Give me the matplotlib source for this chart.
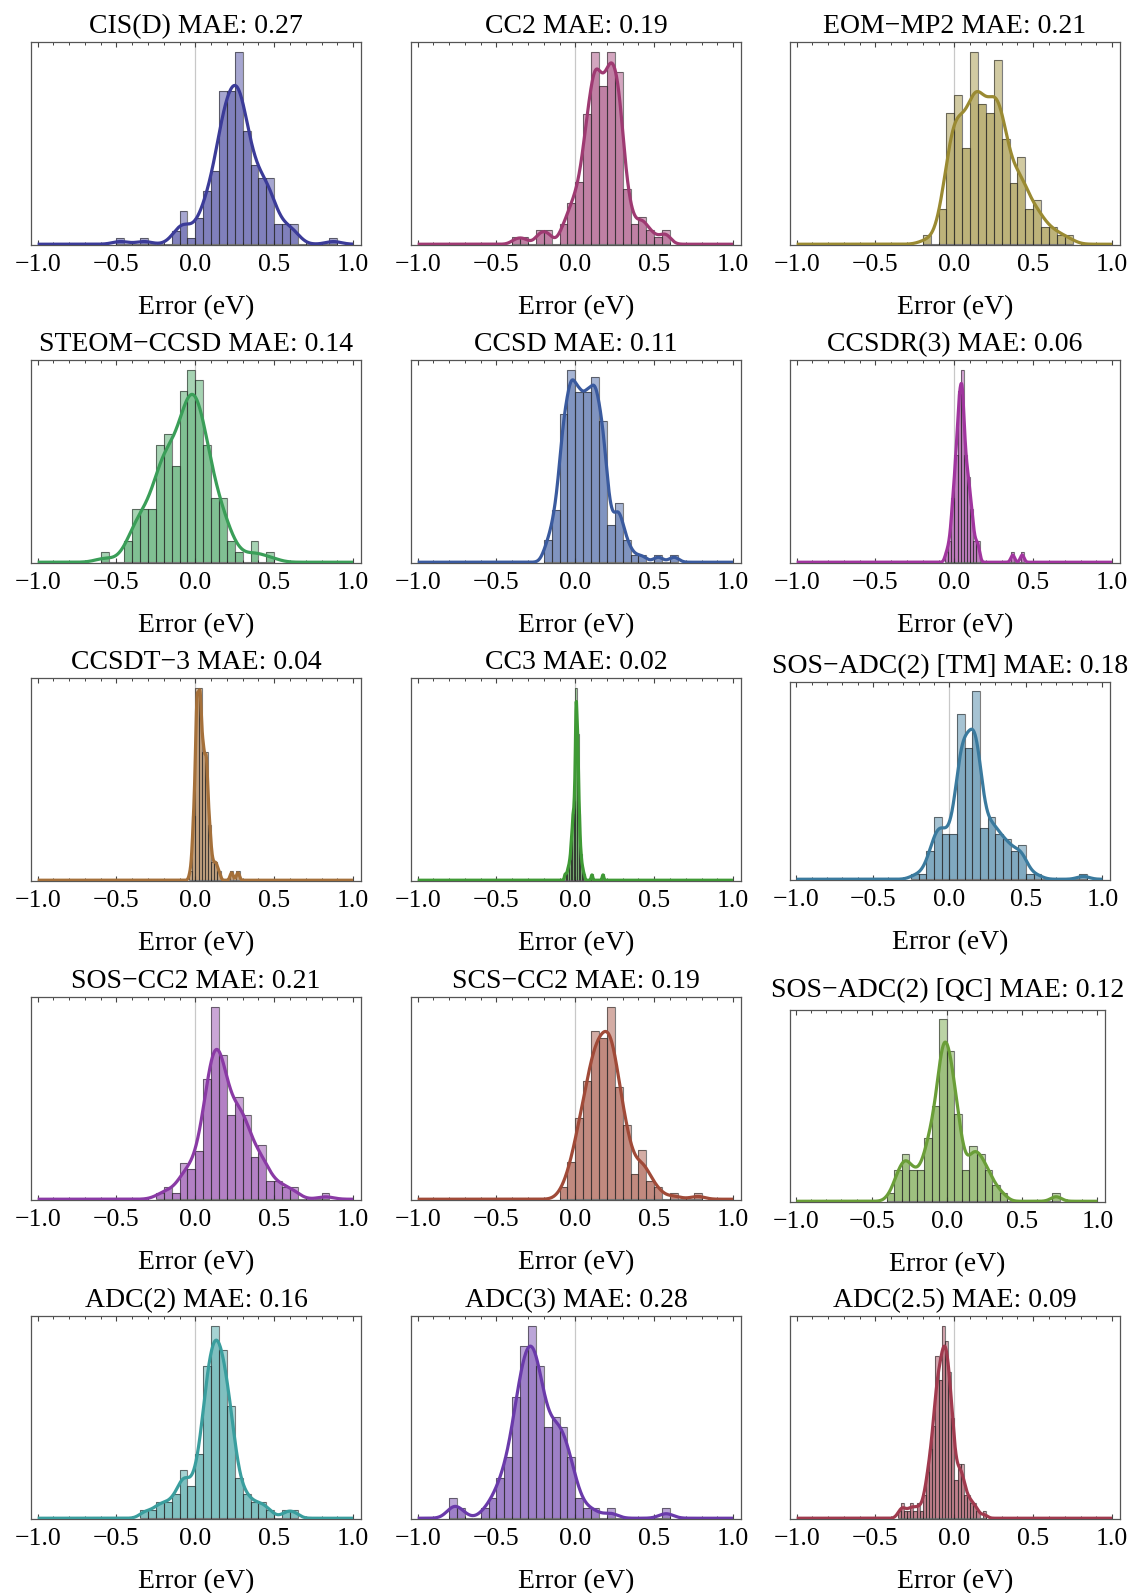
import numpy as np
import matplotlib
matplotlib.use('Agg')
import matplotlib.pyplot as plt
from matplotlib.patches import Polygon
from matplotlib.ticker import MultipleLocator, FuncFormatter

plt.rcParams['font.family'] = ['Liberation Serif', 'DejaVu Serif']

# methods, MAE values and line colours
methods = ['CIS(D)', 'CC2', 'EOM\u2212MP2',
           'STEOM\u2212CCSD', 'CCSD', 'CCSDR(3)',
           'CCSDT\u22123', 'CC3', 'SOS\u2212ADC(2) [TM]',
           'SOS\u2212CC2', 'SCS\u2212CC2', 'SOS\u2212ADC(2) [QC]',
           'ADC(2)', 'ADC(3)', 'ADC(2.5)']
mae = [0.27, 0.19, 0.21, 0.14, 0.11, 0.06, 0.04, 0.02, 0.18, 0.21, 0.19, 0.12, 0.16, 0.28, 0.09]
colors = ['#3b3b98', '#9e3a72', '#9a8a32',
          '#3a9e58', '#3a5a9e', '#a0359e',
          '#a5703a', '#3f9a35', '#3a7a9e',
          '#8a3aa5', '#a04a38', '#6a9e38',
          '#3a9e9e', '#6a3aaa', '#a03a4e']

# histogram bins: left edge of first bin, bin width, counts per bin
bin_start = [-0.5, -0.4, -0.2, -0.6, -0.2, -0.06, -0.04, -0.07, -0.25, -0.25, -0.1, -0.4, -0.35, -0.8, -0.36]
bin_width = [0.05, 0.05, 0.05, 0.05, 0.05, 0.02, 0.02, 0.01, 0.05, 0.05, 0.05, 0.05, 0.05, 0.05, 0.02]
counts_cisd = [1, 0, 0, 1, 0, 0, 0, 2, 5, 1, 4, 8, 11, 23, 23, 29, 17, 12, 10, 10, 3, 3, 3, 0, 0, 0, 0, 1]
counts_cc2 = [1, 1, 0, 2, 2, 0, 3, 6, 9, 19, 28, 23, 28, 25, 8, 3, 4, 2, 1, 2]
counts_eommp2 = [1, 0, 4, 15, 17, 11, 22, 16, 15, 21, 12, 7, 10, 4, 5, 2, 2, 1, 1]
counts_steom = [1, 0, 0, 2, 5, 5, 5, 11, 12, 9, 16, 18, 17, 11, 6, 6, 2, 1, 0, 2, 0, 1]
counts_ccsd = [3, 7, 20, 26, 23, 23, 25, 19, 5, 8, 3, 1, 1, 0, 1, 0, 1]
counts_ccsdr3 = [1, 2, 6, 10, 16, 18, 10, 8, 5, 2, 2, 0, 0, 0, 0, 0, 0, 0, 0, 0, 0, 1, 0, 0, 1]
counts_ccsdt3 = [1, 7, 21, 21, 14, 14, 6, 2, 2, 1, 0, 0, 0, 1, 0, 1]
counts_cc3 = [1, 1, 2, 3, 6, 10, 12, 29, 22, 10, 4, 2, 1, 0, 0, 0, 0, 1, 0, 0, 0, 0, 0, 0, 1]
counts_sosadc2_tm = [1, 1, 5, 11, 8, 8, 29, 23, 33, 9, 11, 8, 7, 5, 6, 1, 1, 0, 0, 0, 0, 0, 1]
counts_soscc2 = [1, 2, 1, 6, 5, 8, 20, 32, 24, 14, 17, 14, 7, 9, 3, 3, 2, 2, 0, 0, 0, 1]
counts_scscc2 = [2, 6, 13, 19, 27, 26, 31, 18, 12, 4, 8, 3, 2, 0, 1, 0, 0, 1]
counts_sosadc2_qc = [1, 4, 6, 4, 4, 8, 12, 23, 19, 11, 4, 7, 6, 4, 2, 1, 0, 0, 0, 0, 0, 0, 1]
counts_adc2 = [1, 1, 2, 2, 3, 6, 4, 8, 19, 24, 21, 14, 5, 3, 2, 2, 1, 0, 1, 1]
counts_adc3 = [2, 1, 0, 0, 1, 2, 4, 6, 12, 17, 19, 15, 9, 10, 9, 6, 2, 1, 1, 0, 1, 0, 0, 0, 0, 0, 0, 1]
counts_adc25 = [1, 2, 1, 1, 2, 1, 2, 1, 3, 6, 9, 12, 21, 18, 25, 23, 19, 13, 5, 7, 7, 3, 3, 2, 2, 1, 0, 1]
all_counts = [counts_cisd, counts_cc2, counts_eommp2, counts_steom, counts_ccsd, counts_ccsdr3,
              counts_ccsdt3, counts_cc3, counts_sosadc2_tm, counts_soscc2, counts_scscc2,
              counts_sosadc2_qc, counts_adc2, counts_adc3, counts_adc25]
# smoothing bandwidth for the density curve
bandwidth = [0.05, 0.033, 0.05, 0.06, 0.03, 0.012, 0.01, 0.005, 0.04, 0.05, 0.045, 0.035, 0.035, 0.045, 0.02]

W, H = 1133, 1593
fig = plt.figure(figsize=(W / 100, H / 100), dpi=100)

col_left = [31, 411, 790]
row_top = [42, 360, 678, 997, 1316]
boxes = {}
for i in range(15):
    boxes[i] = (col_left[i % 3], row_top[i // 3], 330, 203)
boxes[8] = (790, 682, 320, 198)
boxes[11] = (790, 1010, 315, 192)
title_pad = [6.5] * 15
title_pad[11] = 9.5

fmt = FuncFormatter(lambda v, p: f'{v:.1f}'.replace('-', '\u2212'))
xs = np.linspace(-1, 1, 1201)

for i in range(15):
    x0, y0, bw_px, bh_px = boxes[i]
    ax = fig.add_axes([x0 / W, 1 - (y0 + bh_px) / H, bw_px / W, bh_px / H])
    c = colors[i]
    cnt = np.array(all_counts[i], dtype=float)
    w = bin_width[i]
    lefts = bin_start[i] + w * np.arange(len(cnt))
    centers = lefts + w / 2
    n = cnt.sum()
    dens = cnt / (n * w)
    h = bandwidth[i]
    ys = (cnt[None, :] * np.exp(-0.5 * ((xs[:, None] - centers[None, :]) / h) ** 2)).sum(axis=1)
    ys = ys / (n * h * np.sqrt(2 * np.pi))

    ax.axvline(0, color='#c8c8c8', lw=0.9, zorder=0.5)
    ax.bar(lefts, dens, width=w, align='edge', color=c, alpha=0.45, lw=0, zorder=2)
    dark = ax.bar(lefts, dens, width=w, align='edge', color=c, alpha=0.35, lw=0, zorder=3)
    clip = Polygon(np.column_stack([np.r_[xs[0], xs, xs[-1]], np.r_[0, ys, 0]]),
                   closed=True, transform=ax.transData)
    for b in dark:
        b.set_clip_path(clip)
    ax.bar(lefts, dens, width=w, align='edge', facecolor='none',
           edgecolor=(0.15, 0.15, 0.15, 0.6), lw=0.8, zorder=4)
    ax.plot(xs, ys, color=c, lw=2.3, zorder=5, solid_capstyle='butt')

    ymax = max(dens.max(), ys.max())
    ax.set_ylim(-0.004 * ymax, ymax * 1.05)
    ax.set_xlim(-1.042, 1.05)
    ax.xaxis.set_major_locator(MultipleLocator(0.5))
    ax.xaxis.set_minor_locator(MultipleLocator(0.1))
    ax.xaxis.set_major_formatter(fmt)
    ax.set_yticks([])
    ax.tick_params(axis='x', which='both', direction='in', top=True, bottom=True,
                   colors='#444444', labelcolor='black', labelsize=18.5, pad=6.5)
    ax.tick_params(axis='x', which='major', length=3.5, width=0.8)
    ax.tick_params(axis='x', which='minor', length=2.3, width=0.7)
    for s in ax.spines.values():
        s.set_color('#555555')
        s.set_linewidth(0.9)
    ax.set_title(f'{methods[i]} MAE: {mae[i]:.2f}', fontsize=20, pad=title_pad[i])
    ax.set_xlabel('Error (eV)', fontsize=20, labelpad=14)

fig.savefig('out.png', dpi=100)
